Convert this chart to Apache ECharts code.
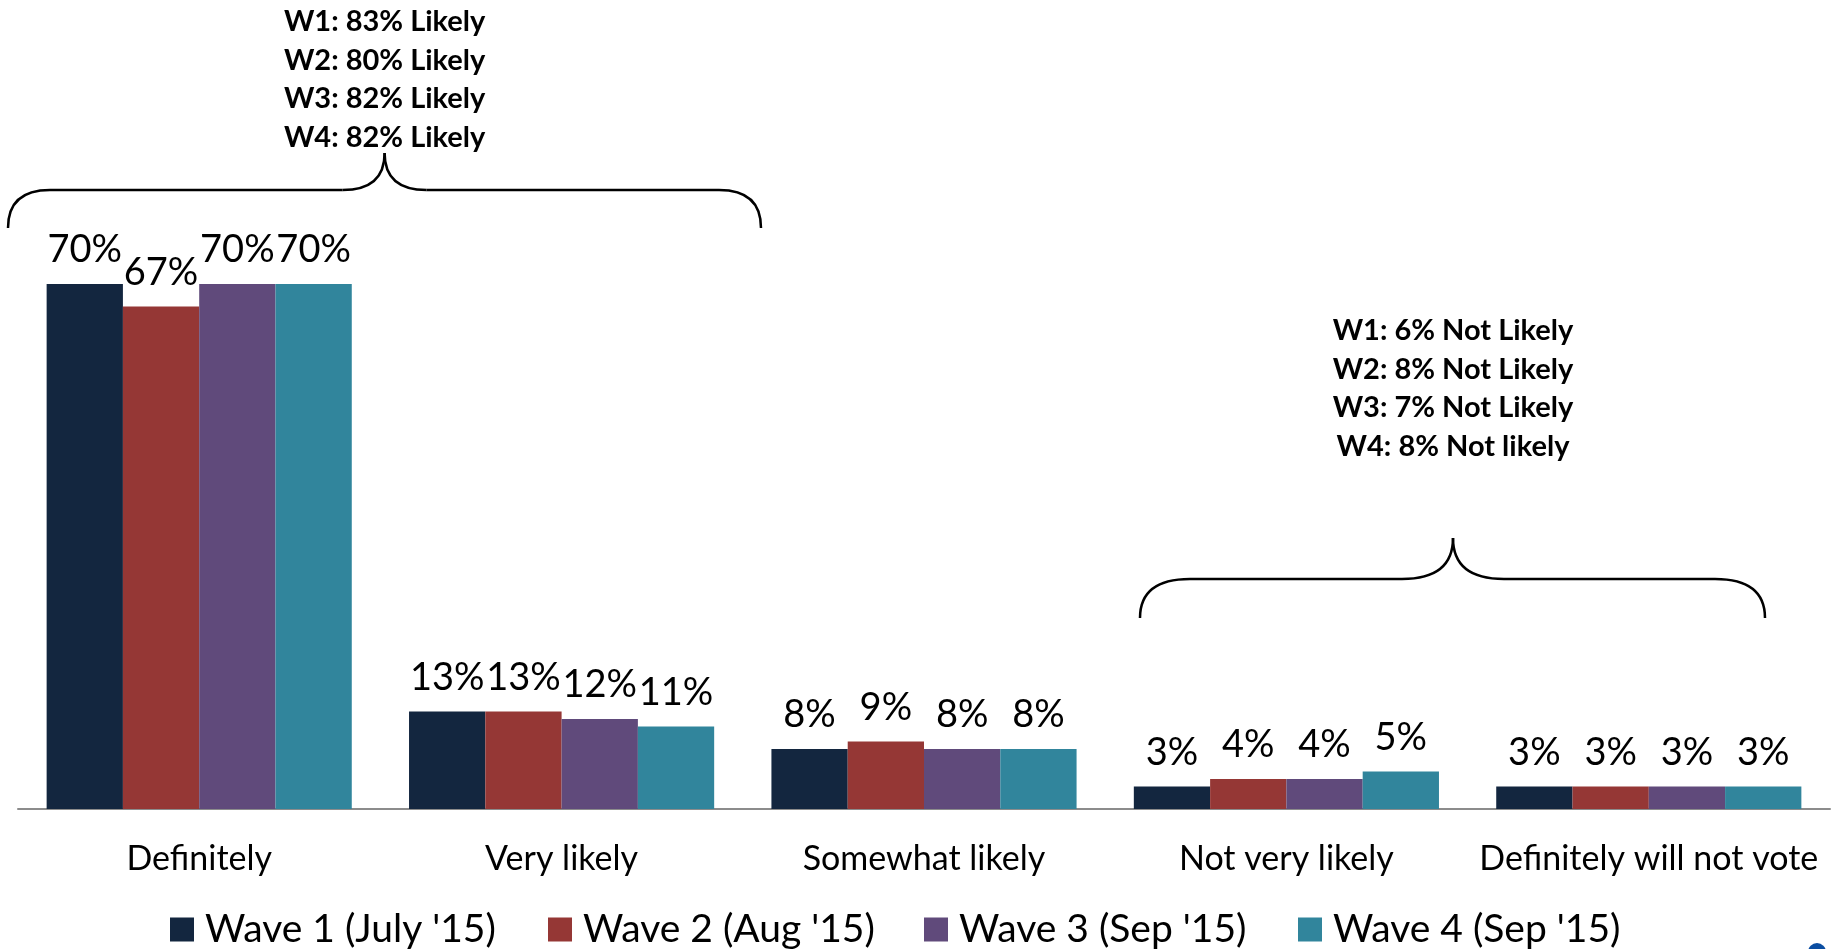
<!DOCTYPE html>
<html>
<head>
<meta charset="utf-8">
<title>Likelihood to vote by wave</title>
<script src="https://cdn.jsdelivr.net/npm/echarts@6/dist/echarts.min.js"></script>
<style>
  html, body { margin: 0; padding: 0; background: #ffffff; }
  #chart { width: 1839px; height: 949px; }
</style>
</head>
<body>
<div id="chart"></div>
<script>
// Response categories along the x axis
const categories = ['Definitely', 'Very likely', 'Somewhat likely', 'Not very likely', 'Definitely will not vote'];

// Share of respondents (%) per survey wave
const waveNames = ["Wave 1 (July '15)", "Wave 2 (Aug '15)", "Wave 3 (Sep '15)", "Wave 4 (Sep '15)"];
const wave1 = [70, 13, 8, 3, 3];
const wave2 = [67, 13, 9, 4, 3];
const wave3 = [70, 12, 8, 4, 3];
const wave4 = [70, 11, 8, 5, 3];

// Summary notes shown above the grouped brackets
const likelyNotes = ['W1: 83% Likely', 'W2: 80% Likely', 'W3: 82% Likely', 'W4: 82% Likely'];
const notLikelyNotes = ['W1: 6% Not Likely', 'W2: 8% Not Likely', 'W3: 7% Not Likely', 'W4: 8% Not likely'];

const FONT = 'Lato, "Open Sans", sans-serif';
const colors = ['#13263f', '#953735', '#604a7b', '#31859c'];
const waveValues = [wave1, wave2, wave3, wave4];

// Curly brace opening downwards: ends at (x0,yEnd) and (x1,yEnd), tip at (xm,yTip)
function brace(x0, x1, xm, yEnd, yBar, yTip, curl, mid) {
  const style = { fill: 'none', stroke: '#000000', lineWidth: 2.5 };
  const q = (ax, ay, cx, cy, bx, by) => ({
    type: 'bezierCurve',
    shape: { x1: ax, y1: ay, cpx1: cx, cpy1: cy, x2: bx, y2: by },
    style
  });
  const l = (ax, ay, bx, by) => ({
    type: 'line',
    shape: { x1: ax, y1: ay, x2: bx, y2: by },
    style
  });
  return {
    type: 'group',
    children: [
      q(x0, yEnd, x0, yBar, x0 + curl, yBar),
      l(x0 + curl, yBar, xm - mid, yBar),
      q(xm - mid, yBar, xm, yBar, xm, yTip),
      q(xm, yTip, xm, yBar, xm + mid, yBar),
      l(xm + mid, yBar, x1 - curl, yBar),
      q(x1 - curl, yBar, x1, yBar, x1, yEnd)
    ]
  };
}

function noteLines(lines, cx, y0, step) {
  return lines.map((t, i) => ({
    type: 'text',
    style: {
      text: t,
      x: cx,
      y: y0 + i * step,
      align: 'center',
      verticalAlign: 'middle',
      font: 'bold 29px ' + FONT,
      fill: '#000000'
    }
  }));
}

const chart = echarts.init(document.getElementById('chart'), null, { renderer: 'canvas' });

const legendLefts = [170, 548, 924, 1298];

const option = {
  backgroundColor: '#ffffff',
  animation: false,
  color: colors,
  textStyle: { fontFamily: FONT },
  grid: {
    left: 18,
    right: 9,
    top: 209,
    bottom: 140,
    containLabel: false,
    outerBoundsMode: 'none'
  },
  legend: waveNames.map((name, i) => ({
    data: [name],
    left: legendLefts[i],
    top: 910,
    padding: 0,
    icon: 'rect',
    itemWidth: 24,
    itemHeight: 24,
    selectedMode: false,
    textStyle: {
      fontFamily: FONT,
      fontSize: 39,
      color: '#000000',
      padding: [0, 0, 0, 6]
    }
  })),
  xAxis: {
    type: 'category',
    data: categories,
    axisLine: { show: true, lineStyle: { color: '#8c8c8c', width: 2 } },
    axisTick: { show: false },
    axisLabel: {
      color: '#000000',
      fontFamily: FONT,
      fontSize: 34,
      margin: 33,
      interval: 0
    }
  },
  yAxis: {
    type: 'value',
    min: 0,
    max: 80,
    show: false,
    splitLine: { show: false }
  },
  series: waveValues.map((vals, i) => ({
    name: waveNames[i],
    type: 'bar',
    data: vals,
    barGap: '0%',
    barCategoryGap: '15.8%',
    itemStyle: { color: colors[i] },
    label: {
      show: true,
      position: 'top',
      distance: 15,
      color: '#000000',
      fontFamily: FONT,
      fontSize: 38,
      formatter: p => p.value + '%'
    }
  })),
  graphic: [
    brace(8, 761, 384.6, 228, 190, 153, 42, 42),
    brace(1140, 1765, 1453, 618, 579, 538, 50, 51),
    ...noteLines(likelyNotes, 384.6, 22, 38.5),
    ...noteLines(notLikelyNotes, 1453, 331, 38.5),
    {
      type: 'circle',
      shape: { cx: 1817, cy: 952, r: 9 },
      style: { fill: '#0b4ea2' }
    }
  ]
};

chart.setOption(option);
</script>
</body>
</html>
